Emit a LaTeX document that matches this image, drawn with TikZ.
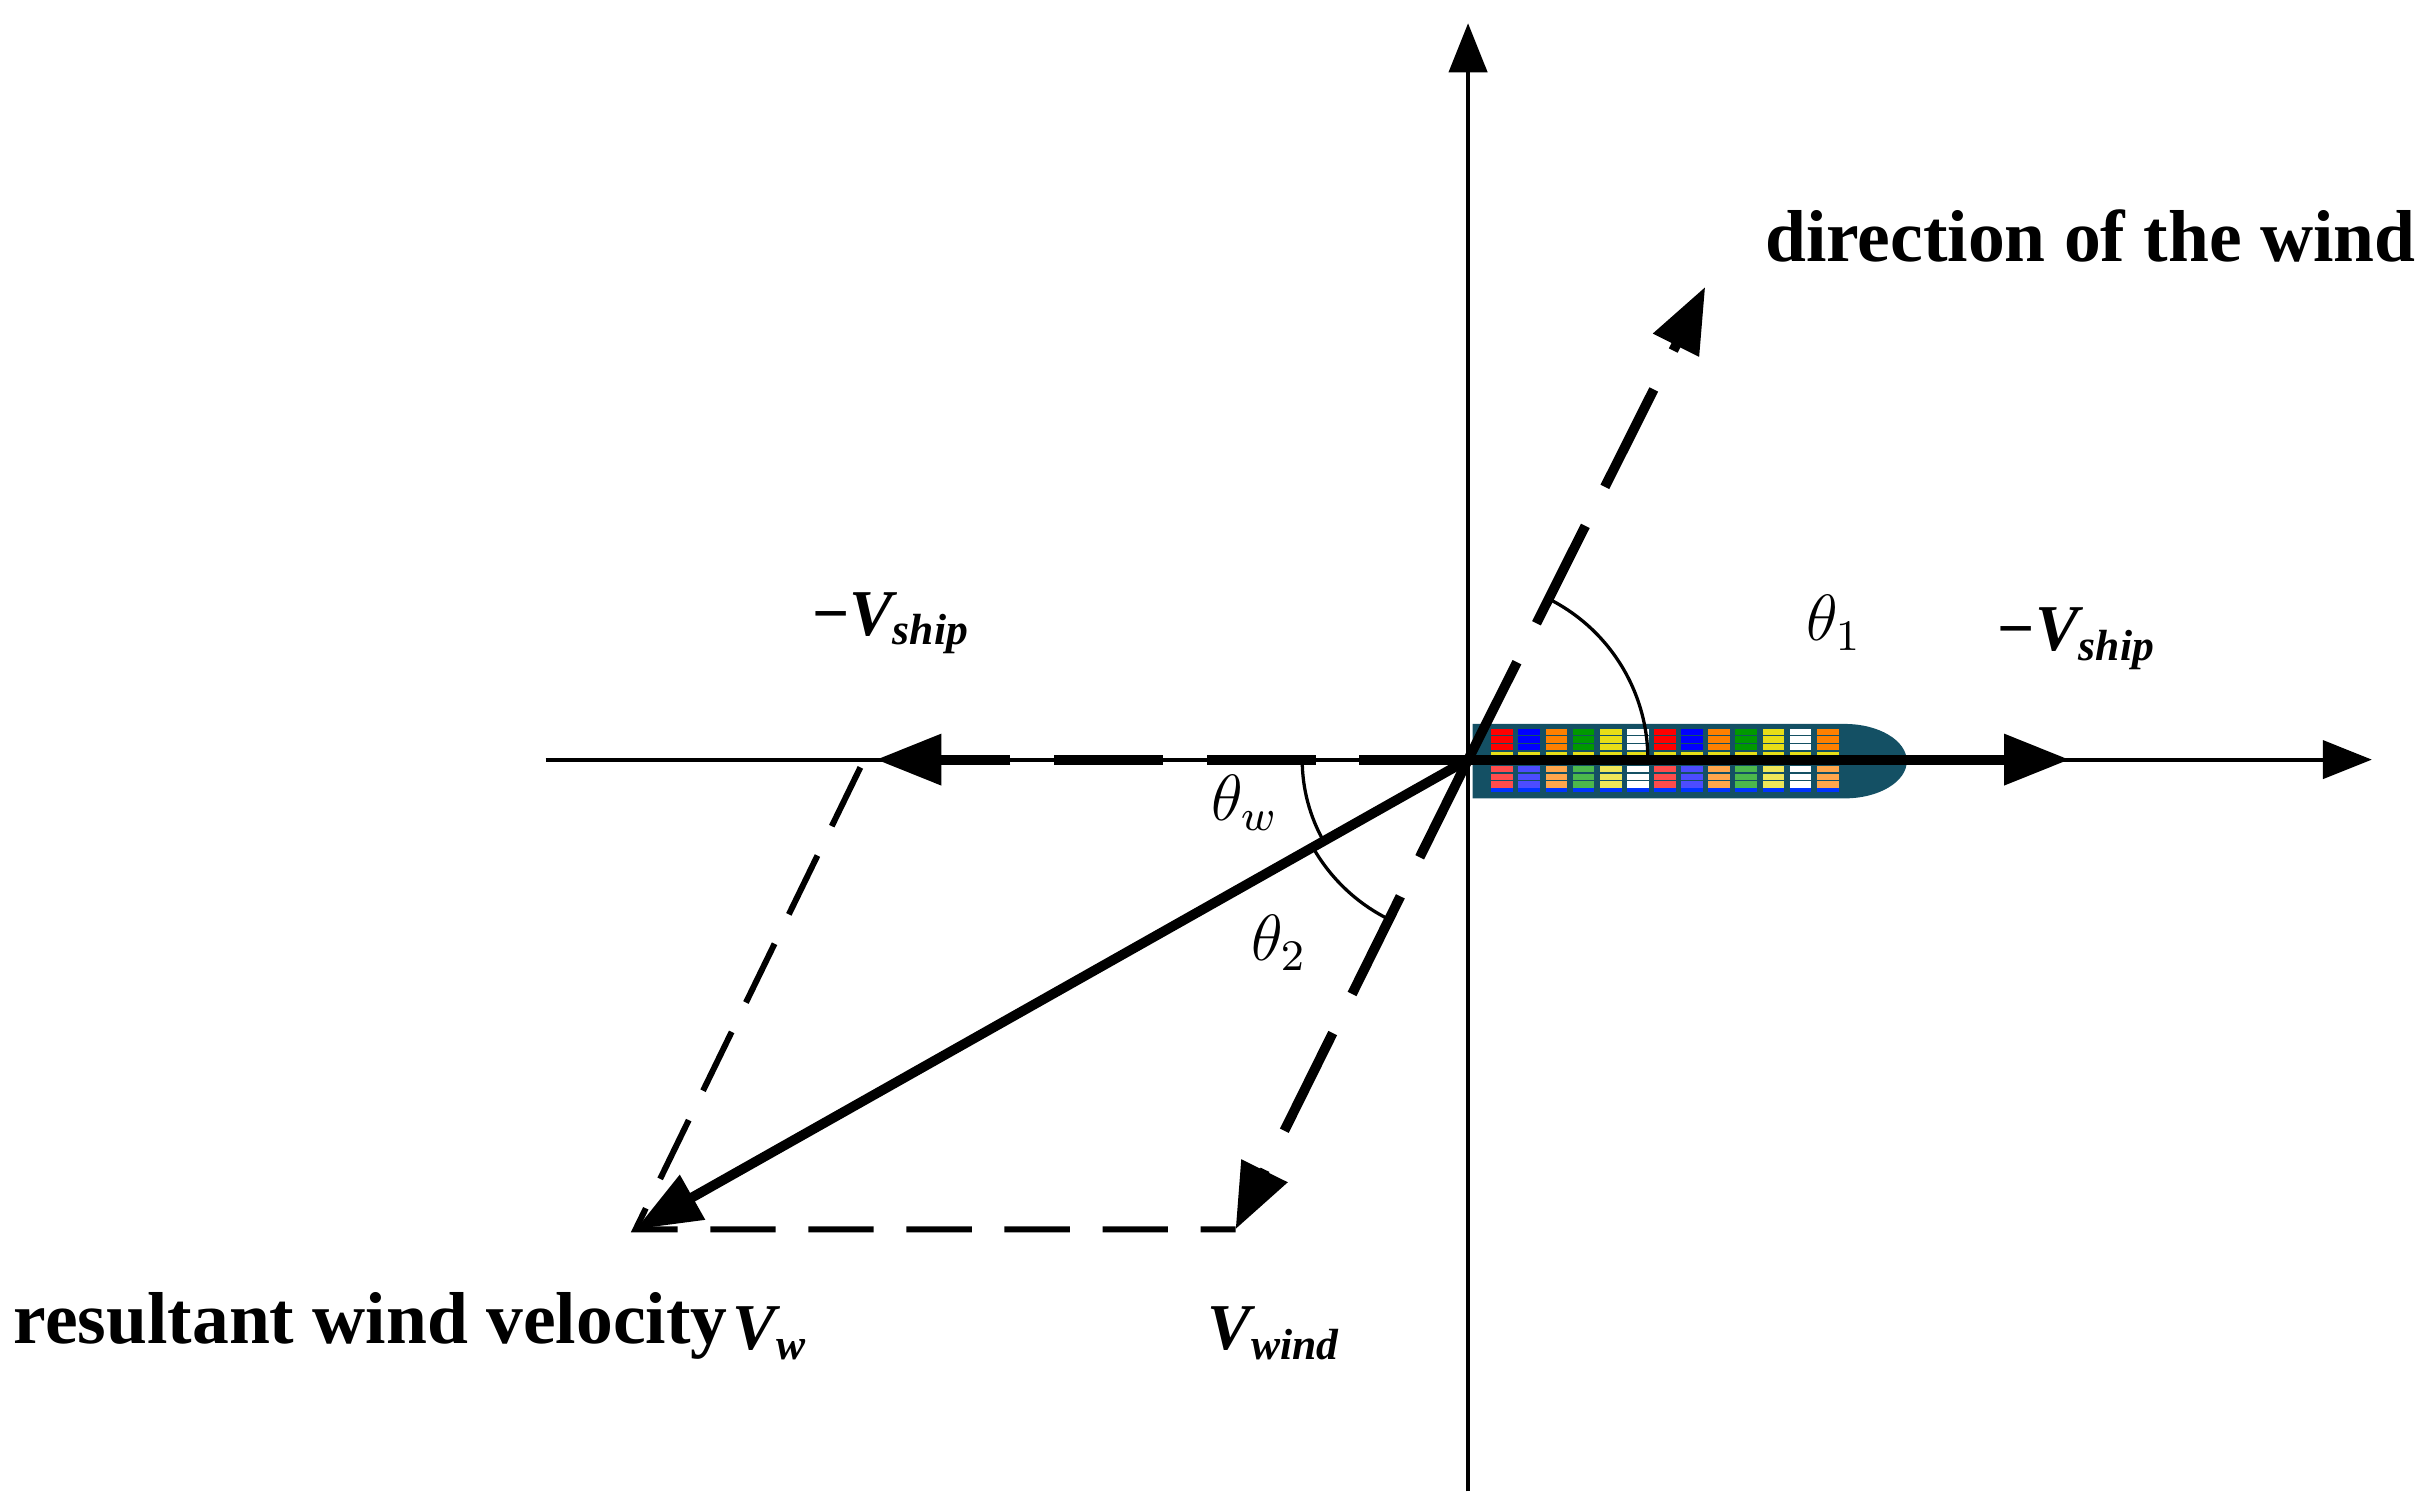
\documentclass[tikz,border=0pt]{standalone}
\usepackage{fontspec}
\setmainfont{Liberation Serif}
\usetikzlibrary{arrows.meta,calc}
\begin{document}
\begin{tikzpicture}[x=0.1mm,y=-0.1mm,
  axis/.style={line width=0.7pt,-{Triangle[length=9pt,width=7pt]}},
  thk/.style={line width=1.8pt},
  dsh/.style={thk,dash pattern=on 20pt off 8pt},
  tip/.style={-{Triangle[length=12pt,width=9pt]}},
  arcs/.style={line width=0.6pt},
  lbl/.style={font=\bfseries\fontsize{13.5}{15}\selectfont,inner sep=0pt},
  vec/.style={font=\bfseries\itshape\fontsize{12}{14}\selectfont,inner sep=0pt},
  sym/.style={font=\fontsize{12}{14}\selectfont,inner sep=0pt}]
\useasboundingbox (0,0) rectangle (1563,975);
\coordinate (O) at (947,490);
\coordinate (yb) at (947,962); \coordinate (yt) at (947,15);
\coordinate (xl) at (352,490); \coordinate (xr) at (1530,490);
\coordinate (L) at (565,490); \coordinate (R) at (1335,490);
\coordinate (S) at (1230,490);
\coordinate (W) at (1100,185); \coordinate (Wd) at (797,793);
\coordinate (Rs) at (410,793); \coordinate (P) at (555,495);
% ship
\fill[fill={rgb,255:red,20;green,80;blue,100}] (950,467) -- (1190,467) arc (-90:90:40 and 24) -- (950,515) -- cycle;
\foreach \i/\c in {0/red,1/blue,2/orange,3/green!60!black,4/yellow!90!black,5/white,6/red,7/blue,8/orange,9/green!60!black,10/yellow!90!black,11/white,12/orange}{
  \foreach \j in {0,1,2}{
   \pgfmathsetmacro{\xx}{962+\i*17.5}
   \fill[\c] (\xx,470+\j*5) rectangle ++(14,4);
   \fill[\c!70!white] (\xx,494+\j*5) rectangle ++(14,4);
  }
  \fill[yellow!90!black] (962+\i*17.5,485) rectangle ++(14,3);
  \fill[blue!80!cyan] (962+\i*17.5,508) rectangle ++(14,3);
}
% axes
\draw[axis] (yb) -- (yt);
\draw[axis] (xl) -- (xr);
% -V_ship arrows
\draw[dsh,tip] (O) -- (L);
\draw[thk] (O) -- (S);
\draw[thk,tip] (S) -- (R);
% wind direction
\draw[dsh,tip] (O) -- (W);
\draw[dsh,tip] (O) -- (Wd);
% parallelogram
\draw[line width=1.1pt,dash pattern=on 12pt off 6pt] (P) -- (Rs) -- (Wd);
% resultant
\draw[thk,tip] (O) -- (Rs);
% arcs
\draw[arcs] ($(O)+(-63.4:116)$) arc (-63.4:0:116);
\draw[arcs] ($(O)+(180:107)$) arc (180:150.4:107);
\draw[arcs] ($(O)+(150.4:115)$) arc (150.4:116.6:115);
% labels
\node[lbl,anchor=west] (t1) at (1138,152) {direction of the wind};
\node[lbl,anchor=east] (t2) at (470,855) {resultant wind velocity};
\node[vec] (vw) at (497,860) {V\textsubscript{w}};
\node[vec] (vwind) at (822,860) {V\textsubscript{wind}};
\node[vec] (vs1) at (575,402) {\textup{−}V\textsubscript{ship}};
\node[vec] (vs2) at (1340,412) {\textup{−}V\textsubscript{ship}};
\node[sym] (th1) at (1183,402) {$\theta_{1}$};
\node[sym] (thw) at (803,518) {$\theta_{w}$};
\node[sym] (th2) at (825,608) {$\theta_{2}$};
\end{tikzpicture}
\end{document}
